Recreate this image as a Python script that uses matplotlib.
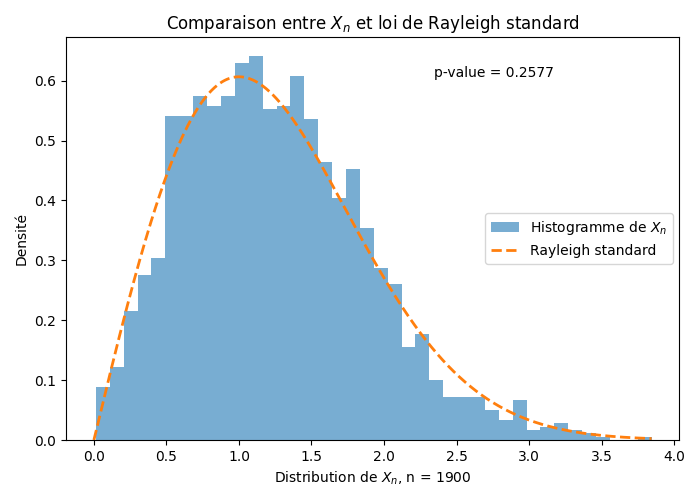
import numpy as np
import matplotlib
matplotlib.use("Agg")
import matplotlib.pyplot as plt

n_samples = 1900
x_min = 0.014
x_max = 3.845
n_bins = 40
densities = [0.0884, 0.1215, 0.2155, 0.2763, 0.3039,
             0.5414, 0.5414, 0.5746, 0.5580, 0.5746,
             0.6298, 0.6409, 0.5525, 0.5580, 0.6077,
             0.5359, 0.4641, 0.4033, 0.4530, 0.3536,
             0.2873, 0.2597, 0.1547, 0.1768, 0.0994,
             0.0718, 0.0718, 0.0718, 0.0497, 0.0331,
             0.0663, 0.0166, 0.0221, 0.0276, 0.0166,
             0.0110, 0.0055, 0.0, 0.0, 0.0055]
p_value = 0.2577
sigma = 1.0

edges = np.linspace(x_min, x_max, n_bins + 1)
centers = (edges[:-1] + edges[1:]) / 2

fig, ax = plt.subplots(figsize=(7, 5), dpi=100)
ax.hist(centers, bins=edges, weights=densities, alpha=0.6, color="C0",
        label="Histogramme de $X_n$")
xs = np.linspace(0, x_max, 500)
pdf = xs / sigma**2 * np.exp(-xs**2 / (2 * sigma**2))
ax.plot(xs, pdf, "--", color="C1", lw=2, label="Rayleigh standard")
ax.text(0.6, 0.9, f"p-value = {p_value:.4f}", transform=ax.transAxes)
ax.set_title("Comparaison entre $X_n$ et loi de Rayleigh standard")
ax.set_xlabel(f"Distribution de $X_n$, n = {n_samples}")
ax.set_ylabel("Densité")
ax.legend(loc="center right")
fig.subplots_adjust(left=0.0943, right=0.9707, top=0.926, bottom=0.12)
fig.savefig("out.png")
